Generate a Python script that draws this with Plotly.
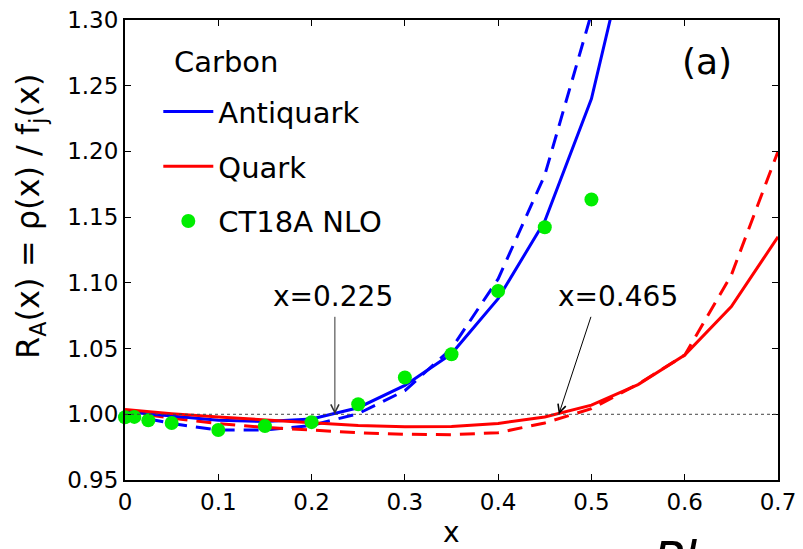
import plotly.graph_objects as go

# ---- data ----
x_anti = [0.0, 0.05, 0.10, 0.15, 0.20, 0.25, 0.30, 0.35, 0.40, 0.45, 0.50, 0.55]
anti_solid = [1.002, 0.9985, 0.9955, 0.9945, 0.9965, 1.005, 1.022, 1.046, 1.088, 1.147, 1.240, 1.390]
anti_dashed = [1.000, 0.993, 0.988, 0.988, 0.9915, 1.0005, 1.018, 1.050, 1.103, 1.182, 1.305, 1.470]

x_quark = [0.0, 0.05, 0.10, 0.15, 0.20, 0.25, 0.30, 0.35, 0.40, 0.45, 0.50, 0.55, 0.60, 0.65, 0.70]
quark_solid = [1.0036, 1.0005, 0.998, 0.9955, 0.9935, 0.9915, 0.9905, 0.9908, 0.993, 0.998, 1.007, 1.0226, 1.045, 1.082, 1.135]
quark_dashed = [1.002, 0.997, 0.993, 0.990, 0.988, 0.986, 0.9848, 0.9845, 0.986, 0.9934, 1.0043, 1.023, 1.045, 1.106, 1.200]

ct_x = [0.0, 0.01, 0.025, 0.05, 0.10, 0.15, 0.20, 0.25, 0.30, 0.35, 0.40, 0.45, 0.50]
ct_y = [0.9977, 0.998, 0.9954, 0.9934, 0.988, 0.991, 0.994, 1.0076, 1.028, 1.0457, 1.0938, 1.1423, 1.1634]

x_ticks = [0, 0.1, 0.2, 0.3, 0.4, 0.5, 0.6, 0.7]
x_ticklabels = ["0", "0.1", "0.2", "0.3", "0.4", "0.5", "0.6", "0.7"]
y_ticks = [0.95, 1.00, 1.05, 1.10, 1.15, 1.20, 1.25, 1.30]

crossings = [(0.225, "x=0.225"), (0.465, "x=0.465")]

BLUE = "#0000ff"
RED = "#ff0000"
GREEN = "#00ee00"
FONT = "DejaVu Sans"

fig = go.Figure()

fig.add_trace(go.Scatter(x=x_anti, y=anti_dashed, mode="lines", showlegend=False,
                         line=dict(color=BLUE, width=3, dash="15px,9px")))
fig.add_trace(go.Scatter(x=x_quark, y=quark_dashed, mode="lines", showlegend=False,
                         line=dict(color=RED, width=3, dash="15px,9px")))
fig.add_trace(go.Scatter(x=x_anti, y=anti_solid, mode="lines", name="Antiquark",
                         legendgroup="a", line=dict(color=BLUE, width=3)))
fig.add_trace(go.Scatter(x=x_quark, y=quark_solid, mode="lines", name="Quark",
                         legendgroup="q", line=dict(color=RED, width=3)))
fig.add_trace(go.Scatter(x=ct_x, y=ct_y, mode="markers", name="CT18A NLO",
                         legendgroup="c", cliponaxis=False,
                         marker=dict(color=GREEN, size=14)))

# dotted reference line at 1
fig.add_shape(type="line", xref="x", yref="y", x0=0, x1=0.7, y0=1.0, y1=1.0,
              line=dict(color="#444444", width=1, dash="dot"))

# arrows + labels
fig.add_annotation(x=crossings[0][0], y=1.0, ax=0.225, ay=1.0753, xref="x", yref="y",
                   axref="x", ayref="y", text="", showarrow=True,
                   arrowhead=5, arrowsize=1.6, arrowwidth=1, arrowcolor="#333333")
fig.add_annotation(x=crossings[1][0], y=1.0, ax=0.500, ay=1.0753, xref="x", yref="y",
                   axref="x", ayref="y", text="", showarrow=True,
                   arrowhead=5, arrowsize=1.6, arrowwidth=1, arrowcolor="#000000")
fig.add_annotation(x=0.2229, y=1.0898, xref="x", yref="y", text=crossings[0][1],
                   showarrow=False, font=dict(family=FONT, size=28, color="black"))
fig.add_annotation(x=0.5282, y=1.0898, xref="x", yref="y", text=crossings[1][1],
                   showarrow=False, font=dict(family=FONT, size=28, color="black"))

# legend title, panel label
fig.add_annotation(x=0.072, y=0.9087, xref="paper", yref="paper", text="Carbon",
                   xanchor="left", yanchor="middle", showarrow=False,
                   font=dict(family=FONT, size=29, color="black"))
fig.add_annotation(x=0.891, y=0.9087, xref="paper", yref="paper", text="(a)",
                   xanchor="center", yanchor="middle", showarrow=False,
                   font=dict(family=FONT, size=36, color="black"))

# axis titles
fig.add_annotation(x=-0.1455, y=0.574, xref="paper", yref="paper",
                   text="R<sub>A</sub>(x) = ρ(x) / f<sub>j</sub>(x)", textangle=-90,
                   xanchor="center", yanchor="middle", showarrow=False,
                   font=dict(family=FONT, size=32, color="black"))
fig.add_annotation(x=0.5, y=-0.1145, xref="paper", yref="paper", text="x",
                   xanchor="center", yanchor="middle", showarrow=False,
                   font=dict(family=FONT, size=28, color="black"))
fig.add_annotation(x=0.806, y=-0.106, xref="paper", yref="paper", text="<i>Phys. Lett.</i>",
                   xanchor="left", yanchor="top", showarrow=False,
                   font=dict(family=FONT, size=50, color="black"))

fig.update_xaxes(range=[0, 0.7], tickvals=x_ticks, ticktext=x_ticklabels,
                 showgrid=False, zeroline=False, showline=True, linecolor="black",
                 linewidth=2, mirror="ticks", ticks="inside", ticklen=6, tickwidth=1,
                 tickcolor="black", tickfont=dict(family=FONT, size=23, color="black"))
fig.update_yaxes(range=[0.95, 1.30], tickvals=y_ticks, tickformat=".2f",
                 showgrid=False, zeroline=False, showline=True, linecolor="black",
                 linewidth=2, mirror="ticks", ticks="inside", ticklen=6, tickwidth=1,
                 tickcolor="black", tickfont=dict(family=FONT, size=23, color="black"))

fig.update_layout(
    width=803, height=549,
    margin=dict(l=125, r=25, t=20, b=69, autoexpand=False),
    paper_bgcolor="white", plot_bgcolor="white",
    showlegend=True,
    legend=dict(x=0.051, y=0.856, xanchor="left", yanchor="top",
                bgcolor="rgba(0,0,0,0)", borderwidth=0,
                font=dict(family=FONT, size=29, color="black"),
                tracegroupgap=14, itemwidth=50),
)

fig.write_html("out.html")
